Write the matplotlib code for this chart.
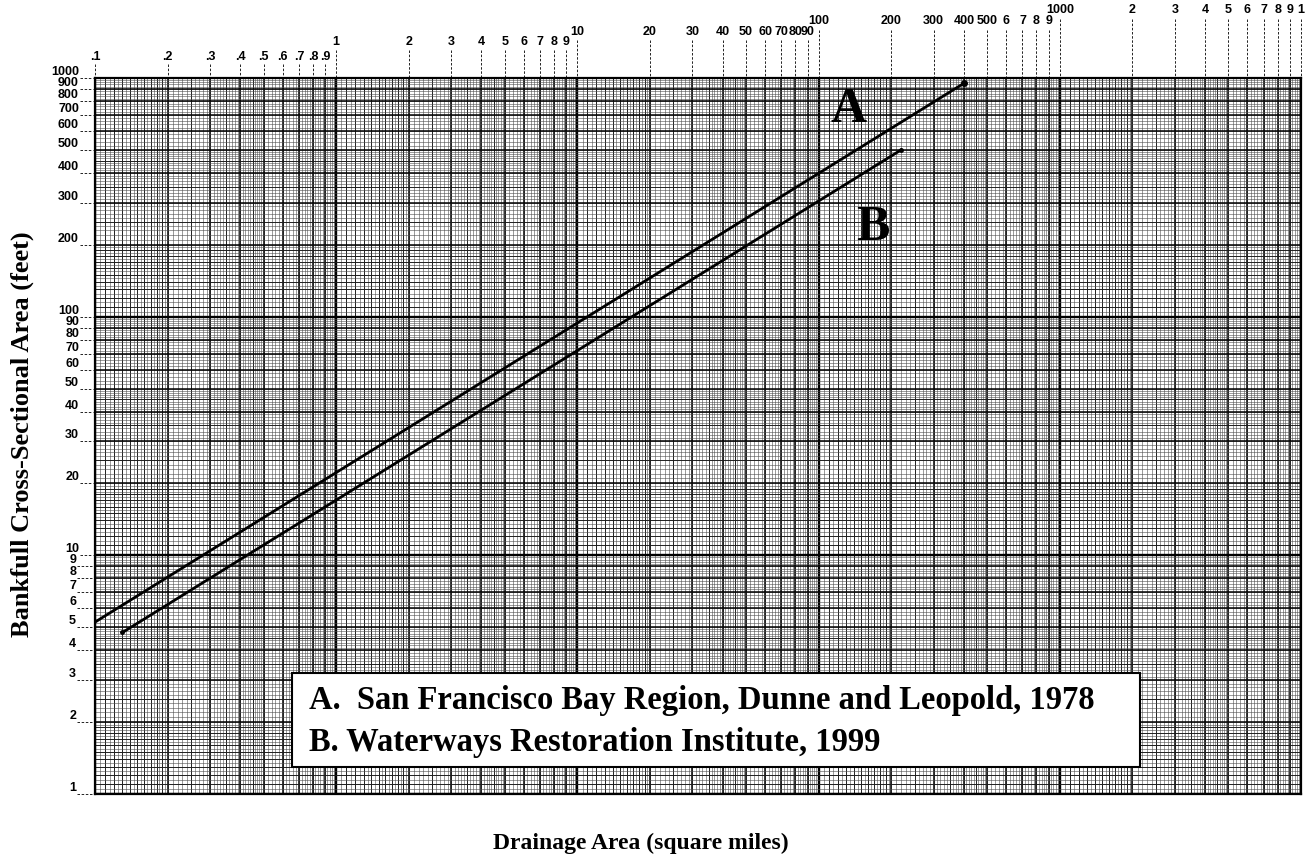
import numpy as np
import matplotlib
matplotlib.use("Agg")
import matplotlib.pyplot as plt
from matplotlib import transforms
from matplotlib.patches import Rectangle

W, H = 1308, 855

# the two regression lines
# (drainage area in sq mi, bankfull area in sq ft)
line_a_x = [0.1, 400]
line_a_y = [5.25, 950]
line_b_x = [0.13, 220]
line_b_y = [4.75, 500]

legend_lines = ["A.  San Francisco Bay Region, Dunne and Leopold, 1978",
                "B. Waterways Restoration Institute, 1999"]

x_decades = [0.1, 1, 10, 100, 1000]
y_decades = [1, 10, 100]

# top scale labels, one row per cycle (staggered like the printed paper)
top_labels = [
    [".1", ".2", ".3", ".4", ".5", ".6", ".7", ".8", ".9"],
    ["1", "2", "3", "4", "5", "6", "7", "8", "9"],
    ["10", "20", "30", "40", "50", "60", "70", "80", "90"],
    ["100", "200", "300", "400", "500", "6", "7", "8", "9"],
    ["1000", "2", "3", "4", "5", "6", "7", "8", "9"],
]
top_end_label = "1"
top_row_y = [57, 42, 32, 21, 10]     # pixel rows of the label text
top_dash_y = [64, 50, 40, 30, 19]    # where the dashes start

left_values = [1, 2, 3, 4, 5, 6, 7, 8, 9,
               10, 20, 30, 40, 50, 60, 70, 80, 90,
               100, 200, 300, 400, 500, 600, 700, 800, 900, 1000]


def fx(px):
    return px / W


def fy(py):
    return 1 - py / H


def cycle_lines():
    """positions inside one cycle (1..10) of the log paper"""
    fine = np.concatenate([np.arange(1, 2, 0.05), np.arange(2, 5, 0.1),
                           np.arange(5, 10, 0.2)])
    medium = np.concatenate([np.arange(1.1, 2, 0.1), [2.5, 3.5, 4.5]])
    heavy = np.arange(2, 10)
    return fine, medium, heavy


fig = plt.figure(figsize=(W / 100, H / 100), dpi=100)
ax = fig.add_axes([fx(95), fy(794), fx(1301) - fx(95), fy(78) - fy(794)])
ax.set_xscale("log")
ax.set_yscale("log")
ax.set_xlim(0.1, 10000)
ax.set_ylim(1, 1000)

fine, medium, heavy = cycle_lines()
for d in x_decades:
    ax.vlines(d * fine, 1, 1000, color="0.3", lw=0.4, zorder=1)
    ax.vlines(d * medium, 1, 1000, color="0.1", lw=0.65, zorder=1)
    ax.vlines(d * heavy, 1, 1000, color="k", lw=1.1, zorder=1)
    ax.vlines(d, 1, 1000, color="k", lw=1.7, zorder=1)
for d in y_decades:
    ax.hlines(d * fine, 0.1, 10000, color="0.3", lw=0.4, zorder=1)
    ax.hlines(d * medium, 0.1, 10000, color="0.1", lw=0.65, zorder=1)
    ax.hlines(d * heavy, 0.1, 10000, color="k", lw=1.1, zorder=1)
    ax.hlines(d, 0.1, 10000, color="k", lw=1.7, zorder=1)

for s in ax.spines.values():
    s.set_linewidth(1.6)
ax.set_xticks([])
ax.set_yticks([])
ax.minorticks_off()

# regression lines
ax.plot(line_a_x, line_a_y, color="k", lw=2.0, zorder=5,
        marker="o", markersize=4, markevery=[1])
ax.plot(line_b_x, line_b_y, color="k", lw=2.0, zorder=5,
        marker="o", markersize=2.5, markevery=[0, 1])

label_font = dict(family="Liberation Sans", weight="bold", fontsize=9)
serif = dict(family="Liberation Serif", weight="bold")

# top scale with dashed leaders
tr_top = transforms.blended_transform_factory(ax.transData, fig.transFigure)
for i, d in enumerate(x_decades):
    for k, lab in enumerate(top_labels[i]):
        x = d * (k + 1)
        ax.text(x, fy(top_row_y[i]), lab, transform=tr_top, ha="center",
                va="center", clip_on=False, **label_font)
        ax.plot([x, x], [fy(top_dash_y[i]), fy(78)], transform=tr_top,
                color="k", lw=0.6, ls=(0, (3, 2)), clip_on=False)
ax.text(10000, fy(top_row_y[-1]), top_end_label, transform=tr_top,
        ha="center", va="center", clip_on=False, **label_font)
ax.plot([10000, 10000], [fy(top_dash_y[-1]), fy(78)], transform=tr_top,
        color="k", lw=0.6, ls=(0, (3, 2)), clip_on=False)

# left scale with dashed leaders
tr_left = transforms.blended_transform_factory(fig.transFigure, ax.transData)
for v in left_values:
    lab = str(v)
    right = 79 if v >= 10 else 76
    ax.text(fx(right), v, lab, transform=tr_left, ha="right", va="bottom",
            clip_on=False, **label_font)
    ax.plot([fx(right + 1), fx(93)], [v, v], transform=tr_left, color="k",
            lw=0.6, ls=(0, (3, 2)), clip_on=False)

# curve letters
fig.text(fx(849), fy(110), "A", ha="center", va="center", fontsize=36, **serif)
fig.text(fx(873), fy(228), "B", ha="center", va="center", fontsize=36, **serif)

# legend box
box = Rectangle((fx(292), fy(767)), fx(1140) - fx(292), fy(673) - fy(767),
                transform=fig.transFigure, facecolor="white", edgecolor="k",
                lw=1.5, zorder=10)
fig.patches.append(box)
fig.text(fx(309), fy(700), legend_lines[0], ha="left", va="center",
         fontsize=23.5, zorder=11, **serif)
fig.text(fx(309), fy(742), legend_lines[1], ha="left", va="center",
         fontsize=23.5, zorder=11, **serif)

# axis titles
fig.text(fx(22), fy(434), "Bankfull Cross-Sectional Area (feet)", rotation=90,
         ha="center", va="center", fontsize=19, **serif)
fig.text(fx(641), fy(843), "Drainage Area (square miles)", ha="center",
         va="center", fontsize=17, **serif)

fig.savefig("out.png", dpi=100, facecolor="white")
